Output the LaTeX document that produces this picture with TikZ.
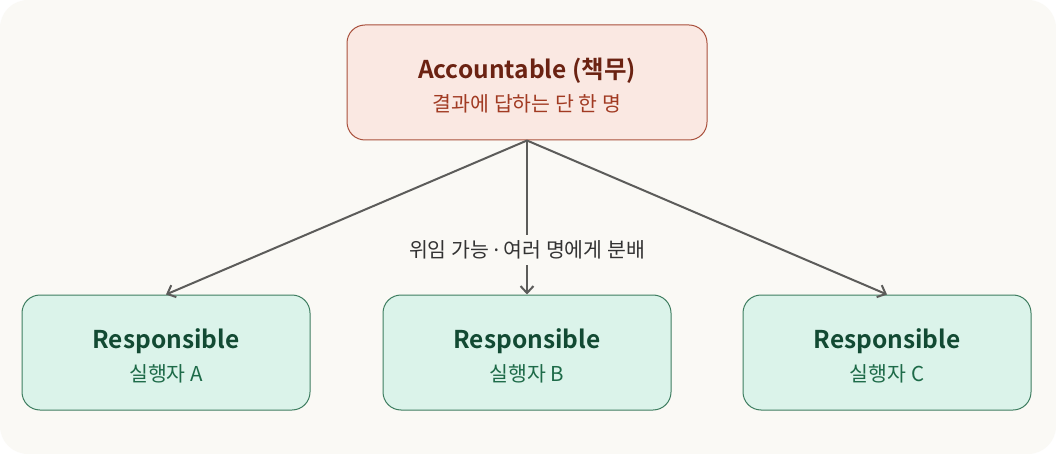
\documentclass[tikz,border=0pt]{standalone}
\usepackage{fontspec}
\setmainfont{Noto Sans CJK KR}[BoldFont={Noto Sans CJK KR Bold}]
\newfontfamily\dotfont{Noto Sans}
\usepackage{tikz}
\usetikzlibrary{positioning, arrows.meta}
\definecolor{canvas}{HTML}{FAF9F5}
\definecolor{accfill}{HTML}{FAE8E2}
\definecolor{accline}{HTML}{A9503C}
\definecolor{acctext}{HTML}{6B2212}
\definecolor{accsub}{HTML}{A13A22}
\definecolor{resfill}{HTML}{DBF3EA}
\definecolor{resline}{HTML}{3E7D60}
\definecolor{restext}{HTML}{124A33}
\definecolor{ressub}{HTML}{1D6A48}
\definecolor{arrline}{HTML}{5C5C5A}
\begin{document}
\begin{tikzpicture}[x=1pt,y=-1pt]
		\tikzstyle{accbox} = [draw=accline, fill=accfill, line width=1, rounded corners=18, minimum width=360, minimum height=115, align=center, inner sep=0]
		\tikzstyle{resbox} = [draw=resline, fill=resfill, line width=1, rounded corners=18, minimum width=288, minimum height=115, align=center, inner sep=0]
		\tikzstyle{arr} = [-{Straight Barb[length=7, width=13, line width=2]}, line width=2, draw=arrline]
		\tikzstyle{lbl} = [fill=canvas, inner xsep=6, inner ysep=6, text=black!80, font=\fontsize{20.5}{22}\selectfont]
		\useasboundingbox (0,0) rectangle (1056,454);
		\fill [white] (0,0) rectangle (1056,454);
		\fill [canvas, rounded corners=28] (0,0) rectangle (1056,454);
		\node [accbox] (v_acc) at (527,82.5) {\rule{0pt}{27pt}{\color{acctext}\bfseries\fontsize{24.5}{27}\selectfont Accountable (책무)}\\[10]{\color{accsub}\fontsize{20.5}{22}\selectfont 결과에 답하는 단 한 명}};
		\node [resbox] (v_ra) at (166,352.5) {\rule{0pt}{27pt}{\color{restext}\bfseries\fontsize{24.5}{27}\selectfont Responsible}\\[10]{\color{ressub}\fontsize{20.5}{22}\selectfont 실행자 A}};
		\node [resbox] (v_rb) at (527,352.5) {\rule{0pt}{27pt}{\color{restext}\bfseries\fontsize{24.5}{27}\selectfont Responsible}\\[10]{\color{ressub}\fontsize{20.5}{22}\selectfont 실행자 B}};
		\node [resbox] (v_rc) at (887,352.5) {\rule{0pt}{27pt}{\color{restext}\bfseries\fontsize{24.5}{27}\selectfont Responsible}\\[10]{\color{ressub}\fontsize{20.5}{22}\selectfont 실행자 C}};
		\draw [arr] (v_acc.south) -- (v_ra.north);
		\draw [arr] (v_acc.south) -- node [lbl, pos=0.71] (v_lbl) {위임 가능 {\dotfont·} 여러 명에게 분배} (v_rb.north);
		\draw [arr] (v_acc.south) -- (v_rc.north);
		\end{tikzpicture}
\end{document}
